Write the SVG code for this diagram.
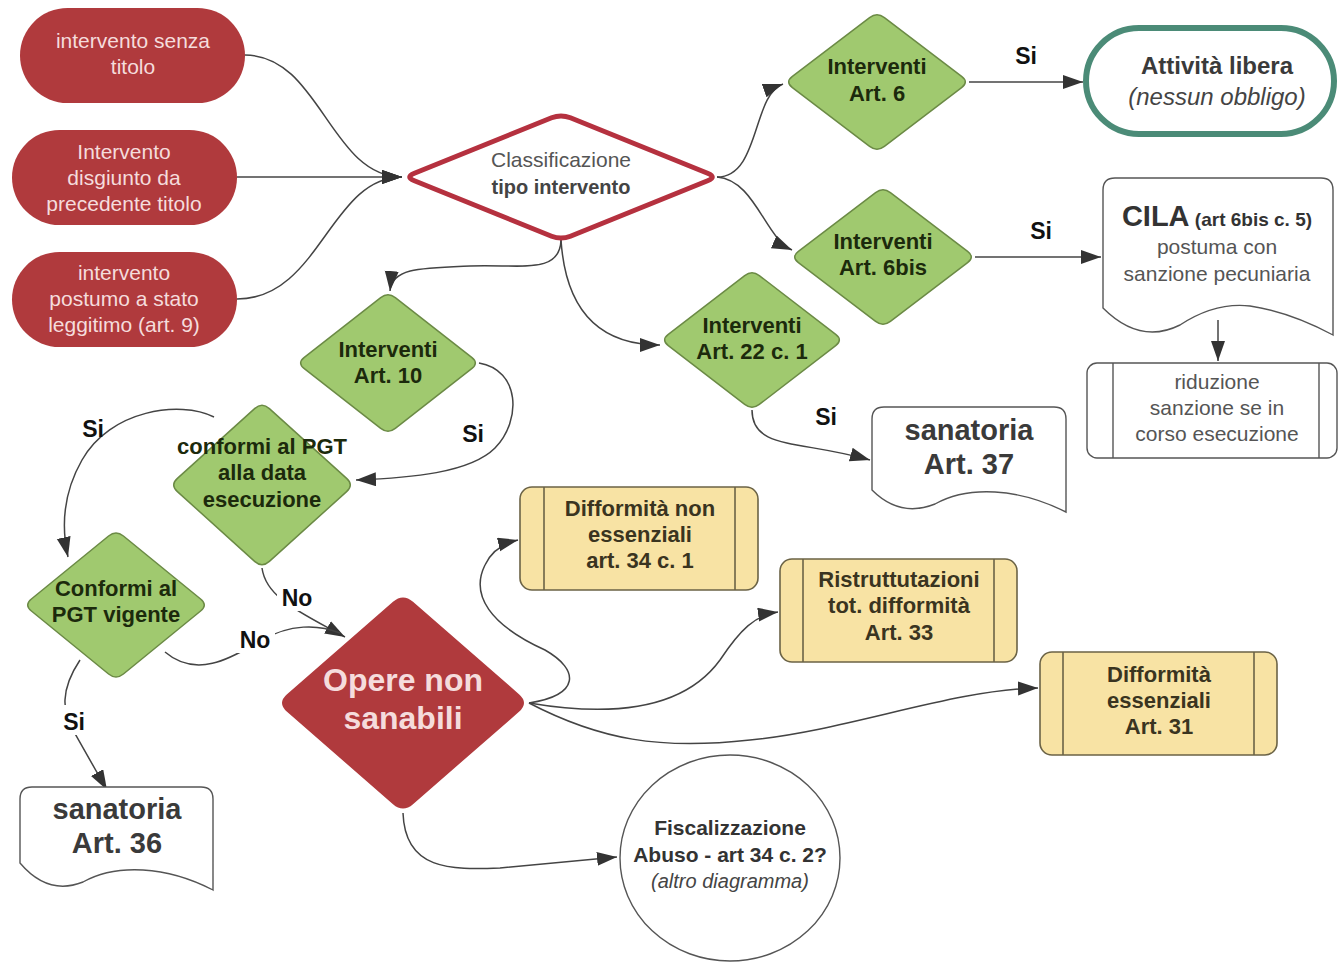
<svg xmlns="http://www.w3.org/2000/svg" width="1339" height="962" viewBox="0 0 1339 962">
<defs>
<marker id="arr" markerUnits="userSpaceOnUse" markerWidth="22" markerHeight="16" refX="20" refY="7" orient="auto">
<path d="M0,0 L20,7 L0,14 Z" fill="#333"/>
</marker>
<style>
text{font-family:"Liberation Sans",Arial,sans-serif;text-anchor:middle}
.pill{fill:#b03a3d}
.pt{fill:#f5dcdc;font-size:21px}
.dia{fill:#a0c96f;stroke:#6b8a45;stroke-width:1.5}
.dt{fill:#1c2a0c;font-size:22px;font-weight:bold}
.proc{fill:#f8e3a4;stroke:#6b6346;stroke-width:1.6}
.prt{fill:#3a3420;font-size:22px;font-weight:bold}
.doc{fill:#fff;stroke:#555;stroke-width:1.4}
.big{fill:#3a3a3a;font-size:29px;font-weight:bold}
.lbl{fill:#111;font-size:23px;font-weight:bold}
.con{fill:none;stroke:#444;stroke-width:1.5}
.ar{marker-end:url(#arr)}
</style>
</defs>
<rect width="1339" height="962" fill="#fff"/>

<g id="connectors">
<path class="con ar" d="M245,55 C320,55 330,177 402,177"/>
<path class="con ar" d="M237,177 L402,177"/>
<path class="con ar" d="M237,299 C320,299 330,177 402,177"/>
<path class="con ar" d="M717,177 C760,177 752,95 783,84"/>
<path class="con ar" d="M717,177 C755,180 765,238 792,250"/>
<path class="con ar" d="M561,240 C560,275 520,264 470,266 C420,268 392,268 390,291"/>
<path class="con ar" d="M561,240 C565,300 590,345 660,345"/>
<path class="con ar" d="M969,82 L1083,82"/>
<path class="con ar" d="M975,257 L1101,257"/>
<path class="con ar" d="M1218,320 L1218,361"/>
<path class="con ar" d="M752,410 C752,450 800,440 870,460"/>
<path class="con ar" d="M479,363 C520,370 522,420 495,448 C470,473 410,478 356,480"/>
<path class="con ar" d="M214,417 C180,400 110,410 82,460 C62,495 62,530 68,557"/>
<path class="con ar" d="M262,568 C266,598 300,612 345,637"/>
<path class="con" d="M165,652 C200,682 240,652 262,640 C290,624 318,624 340,633"/>
<path class="con ar" d="M80,660 C60,690 62,712 74,732 L107,790"/>
<path class="con ar" d="M529,703 C580,695 580,670 545,650 C490,625 470,595 485,565 C492,550 505,543 518,540"/>
<path class="con ar" d="M529,703 C600,715 680,715 720,660 C740,630 755,615 778,612"/>
<path class="con ar" d="M529,703 C600,740 660,750 750,740 C850,730 950,690 1038,688"/>
<path class="con ar" d="M403,813 C405,870 450,870 500,868 L617,857"/>
<rect x="1008" y="40" width="36" height="30" fill="#fff"/>
<text class="lbl" x="1026" y="64">Si</text>
<rect x="1023" y="215" width="36" height="30" fill="#fff"/>
<text class="lbl" x="1041" y="239">Si</text>
<rect x="808" y="401" width="36" height="30" fill="#fff"/>
<text class="lbl" x="826" y="425">Si</text>
<rect x="456" y="418" width="34" height="30" fill="#fff"/>
<text class="lbl" x="473" y="442">Si</text>
<text class="lbl" x="93" y="437">Si</text>
<rect x="277" y="581" width="40" height="30" fill="#fff"/>
<text class="lbl" x="297" y="606">No</text>
<rect x="235" y="623" width="40" height="30" fill="#fff"/>
<text class="lbl" x="255" y="648">No</text>
<rect x="58" y="705" width="34" height="30" fill="#fff"/>
<text class="lbl" x="74" y="730">Si</text>
</g>

<g id="n-senza-titolo">
<rect class="pill" x="20" y="8" width="225" height="95" rx="47.5"/>
<text class="pt" x="133" y="48">intervento senza</text>
<text class="pt" x="133" y="74">titolo</text>
</g>
<g id="n-disgiunto">
<rect class="pill" x="12" y="130" width="225" height="95" rx="47.5"/>
<text class="pt" x="124" y="159">Intervento</text>
<text class="pt" x="124" y="185">disgiunto da</text>
<text class="pt" x="124" y="211">precedente titolo</text>
</g>
<g id="n-postumo">
<rect class="pill" x="12" y="252" width="225" height="95" rx="47.5"/>
<text class="pt" x="124" y="280">intervento</text>
<text class="pt" x="124" y="306">postumo a stato</text>
<text class="pt" x="124" y="332">leggitimo (art. 9)</text>
</g>

<g id="n-classificazione">
<path d="M570.4,117.8 L707.6,173.2 Q717,177 707.6,180.8 L570.4,236.2 Q561,240 551.6,236.2 L414.4,180.8 Q405,177 414.4,173.2 L551.6,117.8 Q561,114 570.4,117.8 Z" fill="#fff" stroke="#b5313f" stroke-width="5"/>
<text x="561" y="167" fill="#555" font-size="21">Classificazione</text>
<text x="561" y="194" fill="#444" font-size="20" font-weight="bold">tipo intervento</text>
</g>

<g id="n-art6">
<path class="dia" d="M884.4,17.6 L961.6,76.4 Q969,82 961.6,87.6 L884.4,146.4 Q877,152 869.6,146.4 L792.4,87.6 Q785,82 792.4,76.4 L869.6,17.6 Q877,12 884.4,17.6 Z"/>
<text class="dt" x="877" y="74">Interventi</text>
<text class="dt" x="877" y="101">Art. 6</text>
</g>
<g id="n-art6bis">
<path class="dia" d="M890.4,192.6 L967.6,251.4 Q975,257 967.6,262.6 L890.4,321.4 Q883,327 875.6,321.4 L798.4,262.6 Q791,257 798.4,251.4 L875.6,192.6 Q883,187 890.4,192.6 Z"/>
<text class="dt" x="883" y="249">Interventi</text>
<text class="dt" x="883" y="275">Art. 6bis</text>
</g>
<g id="n-art22">
<path class="dia" d="M759.3,275.6 L835.7,334.4 Q843,340 835.7,345.6 L759.3,404.4 Q752,410 744.7,404.4 L668.3,345.6 Q661,340 668.3,334.4 L744.7,275.6 Q752,270 759.3,275.6 Z"/>
<text class="dt" x="752" y="333">Interventi</text>
<text class="dt" x="752" y="359">Art. 22 c. 1</text>
</g>
<g id="n-art10">
<path class="dia" d="M395.3,297.7 L471.7,357.3 Q479,363 471.7,368.7 L395.3,428.3 Q388,434 380.7,428.3 L304.3,368.7 Q297,363 304.3,357.3 L380.7,297.7 Q388,292 395.3,297.7 Z"/>
<text class="dt" x="388" y="357">Interventi</text>
<text class="dt" x="388" y="383">Art. 10</text>
</g>
<g id="n-conformi-data">
<path class="dia" d="M269.4,408.6 L346.6,478.4 Q354,485 346.6,491.6 L269.4,561.4 Q262,568 254.6,561.4 L177.4,491.6 Q170,485 177.4,478.4 L254.6,408.6 Q262,402 269.4,408.6 Z"/>
<text class="dt" x="262" y="454">conformi al PGT</text>
<text class="dt" x="262" y="480">alla data</text>
<text class="dt" x="262" y="507">esecuzione</text>
</g>
<g id="n-conformi-vigente">
<path class="dia" d="M123.4,536 L200.6,599 Q208,605 200.6,611 L123.4,674 Q116,680 108.6,674 L31.4,611 Q24,605 31.4,599 L108.6,536 Q116,530 123.4,536 Z"/>
<text class="dt" x="116" y="596">Conformi al</text>
<text class="dt" x="116" y="622">PGT vigente</text>
</g>
<g id="n-opere">
<path d="M413,601.8 L519,694.2 Q529,703 519,711.8 L413,804.2 Q403,813 393,804.2 L287,711.8 Q277,703 287,694.2 L393,601.8 Q403,593 413,601.8 Z" fill="#b03a3d"/>
<text x="403" y="691" fill="#f5dcdc" font-size="32" font-weight="bold">Opere non</text>
<text x="403" y="729" fill="#f5dcdc" font-size="32" font-weight="bold">sanabili</text>
</g>

<g id="n-attivita">
<rect x="1086" y="28" width="248" height="106" rx="53" fill="#fff" stroke="#4b8b77" stroke-width="6"/>
<text x="1217" y="74" fill="#3a3a3a" font-size="24" font-weight="bold">Attività libera</text>
<text x="1217" y="105" fill="#444" font-size="24" font-style="italic">(nessun obbligo)</text>
</g>
<g id="n-cila">
<path class="doc" d="M1103,308 L1103,190 Q1103,178 1115,178 L1321,178 Q1333,178 1333,190 L1333,335 Q1290,312 1250,306 Q1215,302 1180,325 Q1140,345 1103,308 Z"/>
<text x="1217" y="226" fill="#333"><tspan font-size="29" font-weight="bold">CILA</tspan><tspan font-size="19" font-weight="bold"> (art 6bis c. 5)</tspan></text>
<text x="1217" y="254" fill="#555" font-size="21">postuma con</text>
<text x="1217" y="281" fill="#555" font-size="21">sanzione pecuniaria</text>
</g>
<g id="n-riduzione">
<rect x="1087" y="363" width="250" height="95" rx="10" fill="#fff" stroke="#555" stroke-width="1.4"/>
<line x1="1113" y1="363" x2="1113" y2="458" stroke="#555" stroke-width="1.4"/>
<line x1="1319" y1="363" x2="1319" y2="458" stroke="#555" stroke-width="1.4"/>
<text x="1217" y="389" fill="#555" font-size="21">riduzione</text>
<text x="1217" y="415" fill="#555" font-size="21">sanzione se in</text>
<text x="1217" y="441" fill="#555" font-size="21">corso esecuzione</text>
</g>
<g id="n-sanatoria37">
<path class="doc" d="M872,490 L872,419 Q872,407 884,407 L1054,407 Q1066,407 1066,419 L1066,512 Q1030,494 995,492 Q960,490 935,504 Q900,518 872,490 Z"/>
<text class="big" x="969" y="440">sanatoria</text>
<text class="big" x="969" y="474">Art. 37</text>
</g>
<g id="n-sanatoria36">
<path class="doc" d="M20,863 L20,799 Q20,787 32,787 L201,787 Q213,787 213,799 L213,890 Q178,872 143,870 Q108,868 83,882 Q48,896 20,863 Z"/>
<text class="big" x="117" y="819">sanatoria</text>
<text class="big" x="117" y="853">Art. 36</text>
</g>
<g id="n-diff-non-ess">
<rect class="proc" x="520" y="487" width="238" height="103" rx="12"/>
<line x1="544" y1="487" x2="544" y2="590" stroke="#6b6346" stroke-width="1.6"/>
<line x1="735" y1="487" x2="735" y2="590" stroke="#6b6346" stroke-width="1.6"/>
<text class="prt" x="640" y="516">Difformità non</text>
<text class="prt" x="640" y="542">essenziali</text>
<text class="prt" x="640" y="568">art. 34 c. 1</text>
</g>
<g id="n-ristrutturazioni">
<rect class="proc" x="780" y="559" width="237" height="103" rx="12"/>
<line x1="803" y1="559" x2="803" y2="662" stroke="#6b6346" stroke-width="1.6"/>
<line x1="994" y1="559" x2="994" y2="662" stroke="#6b6346" stroke-width="1.6"/>
<text class="prt" x="899" y="587">Ristruttutazioni</text>
<text class="prt" x="899" y="613">tot. difformità</text>
<text class="prt" x="899" y="640">Art. 33</text>
</g>
<g id="n-diff-ess">
<rect class="proc" x="1040" y="652" width="237" height="103" rx="12"/>
<line x1="1063" y1="652" x2="1063" y2="755" stroke="#6b6346" stroke-width="1.6"/>
<line x1="1254" y1="652" x2="1254" y2="755" stroke="#6b6346" stroke-width="1.6"/>
<text class="prt" x="1159" y="682">Difformità</text>
<text class="prt" x="1159" y="708">essenziali</text>
<text class="prt" x="1159" y="734">Art. 31</text>
</g>
<g id="n-fiscalizzazione">
<ellipse cx="730" cy="858" rx="110" ry="103" fill="#fff" stroke="#555" stroke-width="1.4"/>
<text x="730" y="835" fill="#333" font-size="21" font-weight="bold">Fiscalizzazione</text>
<text x="730" y="862" fill="#333" font-size="21" font-weight="bold">Abuso - art 34 c. 2?</text>
<text x="730" y="888" fill="#444" font-size="20" font-style="italic">(altro diagramma)</text>
</g>
</svg>
